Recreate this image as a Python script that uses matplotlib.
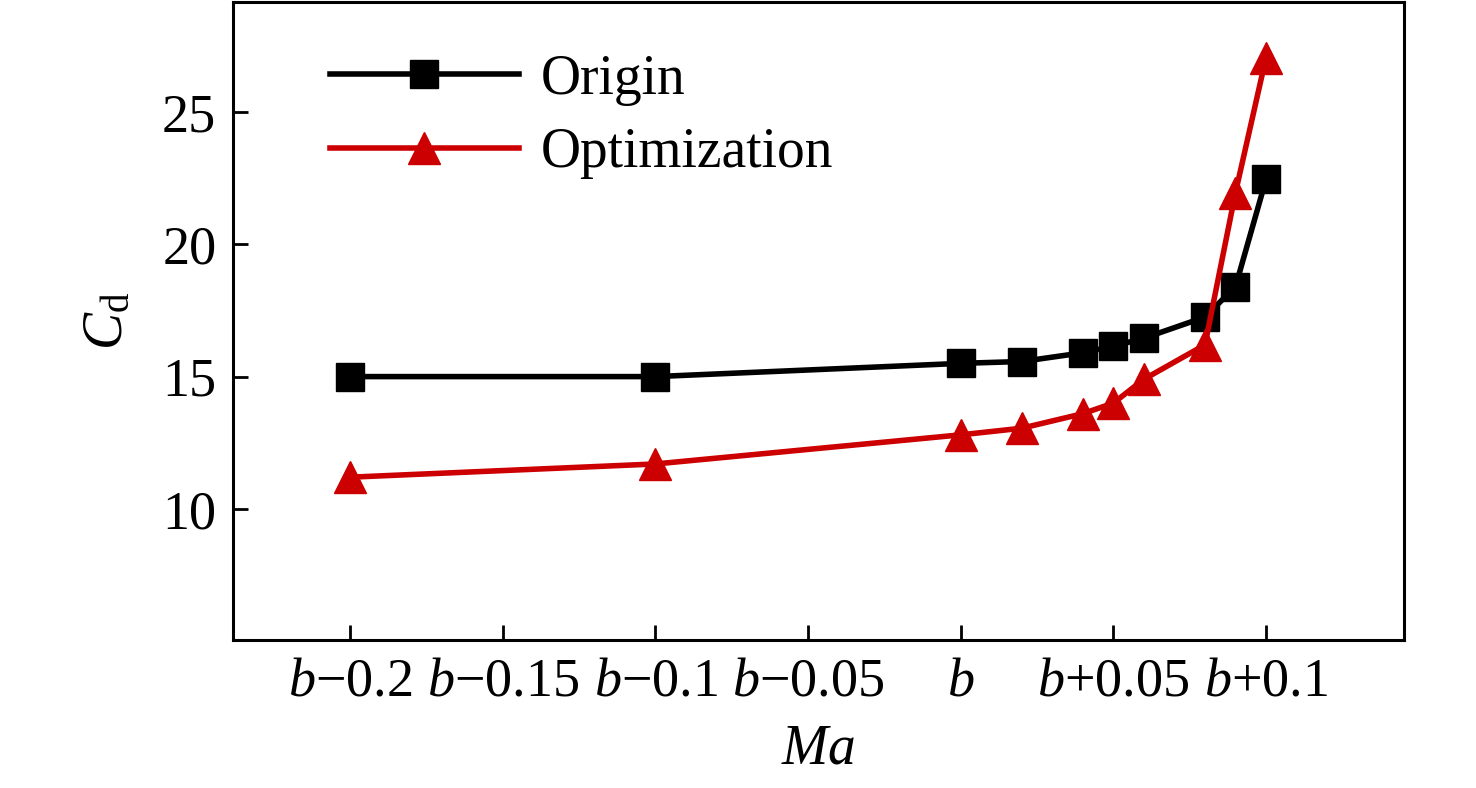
import matplotlib
matplotlib.use("Agg")
import matplotlib.pyplot as plt
import numpy as np

# Mach number offsets from b
ma = np.array([-0.2, -0.1, 0.0, 0.02, 0.04, 0.05, 0.06, 0.08, 0.09, 0.1])
cd_origin = np.array([15.0, 15.0, 15.5, 15.57, 15.9, 16.15, 16.45, 17.25, 18.4, 22.45])
cd_optim = np.array([11.2, 11.7, 12.8, 13.05, 13.6, 14.0, 14.9, 16.2, 21.95, 27.05])

xticks = [-0.2, -0.15, -0.1, -0.05, 0.0, 0.05, 0.1]
xticklabels = ["$b$\u22120.2", "$b$\u22120.15", "$b$\u22120.1", "$b$\u22120.05",
               "$b$", "$b$+0.05", "$b$+0.1"]
yticks = [10, 15, 20, 25]

plt.rcParams["font.family"] = ["Liberation Serif", "DejaVu Serif"]
plt.rcParams["mathtext.fontset"] = "custom"
plt.rcParams["mathtext.rm"] = "Liberation Serif"
plt.rcParams["mathtext.it"] = "Liberation Serif:italic"

fig = plt.figure(figsize=(14.76, 7.88), dpi=100)
ax = fig.add_axes([233 / 1476, 1 - 640 / 788, (1404 - 233) / 1476, (640 - 2) / 788])

ax.plot(ma, cd_origin, color="black", lw=4, marker="s", markersize=20,
        label="Origin")
ax.plot(ma, cd_optim, color="#cc0000", lw=4, marker="^", markersize=23,
        label="Optimization")

ax.set_xlim(-0.2384, 0.1452)
ax.set_ylim(5.05, 29.15)
ax.set_xticks(xticks)
ax.set_xticklabels(xticklabels)
ax.set_yticks(yticks)

ax.tick_params(direction="in", length=11, width=2, labelsize=39, pad=12)
for side in ["top", "right", "bottom", "left"]:
    ax.spines[side].set_linewidth(2.2)

ax.set_xlabel("$Ma$", fontsize=40, labelpad=12)
ax.set_ylabel("$C_\\mathrm{d}$", fontsize=40, labelpad=20)

ax.legend(loc="upper left", bbox_to_anchor=(0.04, 0.997), frameon=False,
          fontsize=40, handlelength=3.4, handletextpad=0.4, labelspacing=0.38)

fig.savefig("out.png", dpi=100)
